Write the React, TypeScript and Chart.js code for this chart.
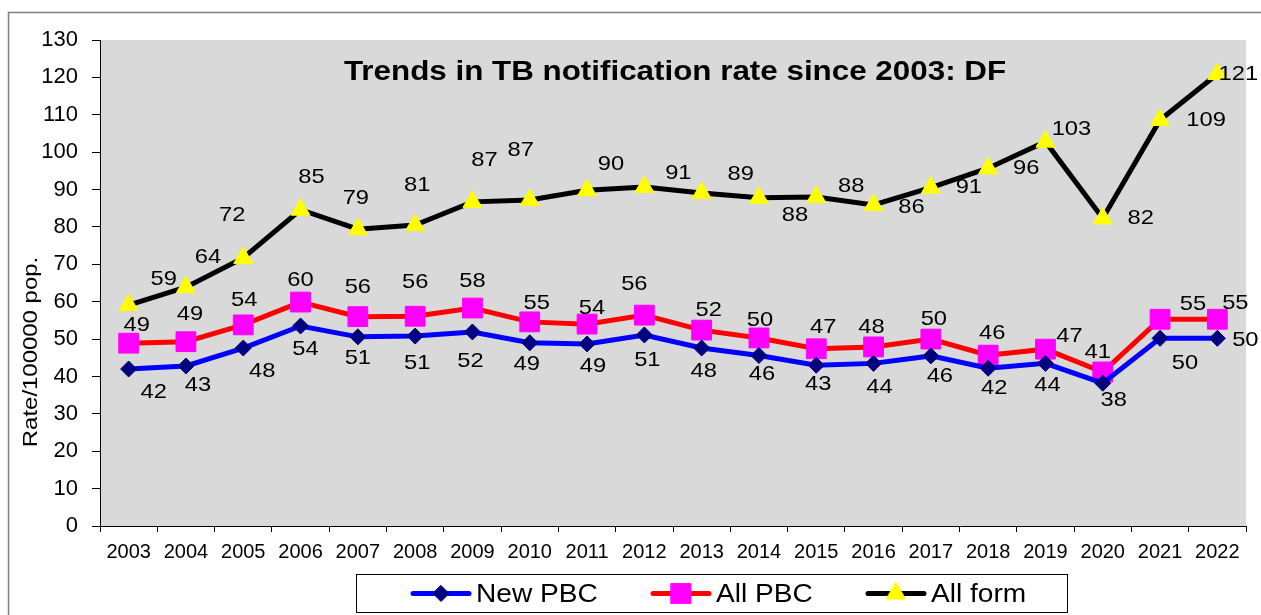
import React, { useEffect, useRef } from 'react';
import { Chart, registerables } from 'chart.js';

Chart.register(...registerables);

const years = ['2003', '2004', '2005', '2006', '2007', '2008', '2009', '2010', '2011', '2012', '2013', '2014', '2015', '2016', '2017', '2018', '2019', '2020', '2021', '2022'];
const newPBC = [42.0, 42.8, 47.6, 53.5, 50.6, 50.8, 51.9, 49.0, 48.7, 51.1, 47.6, 45.6, 43.0, 43.5, 45.5, 42.2, 43.5, 38.2, 50.2, 50.2];
const allPBC = [48.9, 49.3, 53.8, 59.9, 56.0, 56.1, 58.3, 54.6, 54.0, 56.4, 52.4, 50.3, 47.4, 47.9, 50.0, 45.7, 47.3, 41.2, 55.3, 55.3];
const allForm = [59.1, 63.9, 71.7, 84.6, 79.4, 80.5, 86.7, 87.2, 89.8, 90.7, 89.1, 87.8, 88.0, 85.9, 90.5, 95.7, 102.8, 82.3, 108.6, 120.9];

// data-label offsets from each marker (px)
const newPBCLabelOffsets = [[25, 23], [12, 19], [19, 23], [5, 23], [0, 21], [2, 27], [-2, 29], [-3, 21], [6, 22], [3, 25], [2, 23], [3, 19], [2, 19], [6, 24], [9, 20], [6, 20], [2, 22], [11, 17], [25, 25], [28, 2]];
const allPBCLabelOffsets = [[8, -18], [4, -27], [1, -25], [0, -22], [0, -29], [0, -34], [0, -27], [7, -19], [5, -16], [-10, -31], [7, -20], [1, -18], [7, -22], [-2, -20], [3, -20], [4, -22], [24, -13], [-5, -20], [33, -15], [18, -16]];
const allFormLabelOffsets = [[35, -26], [22, -30], [-11, -43], [11, -33], [-2, -31], [2, -40], [12, -42], [-9, -50], [24, -26], [34, -14], [39, -19], [36, 17], [35, -11], [38, 2], [38, 0], [38, 0], [26, -12], [38, 0], [46, 0], [21, 0]];

const titleText = 'Trends in TB notification rate since 2003: DF';
const yTitleText = 'Rate/100000 pop.';
const FONT = '"Liberation Sans", Arial, sans-serif';

const seriesStyles = [
  { label: 'New PBC', line: '#0000FF', point: '#000080', style: 'rectRot', radius: 8 },
  { label: 'All PBC', line: '#FF0000', point: '#FF00FF', style: 'rect', radius: 14 },
  { label: 'All form', line: '#000000', point: '#FFFF00', style: 'triangle', radius: 11 },
];
const seriesData = [newPBC, allPBC, allForm];
const seriesOffsets = [newPBCLabelOffsets, allPBCLabelOffsets, allFormLabelOffsets];

function stretchedText(ctx: CanvasRenderingContext2D, text: string, x: number, y: number, sx: number) {
  ctx.save();
  ctx.translate(x, y);
  ctx.scale(sx, 1);
  ctx.fillText(text, 0, 0);
  ctx.restore();
}

function drawMarker(ctx: CanvasRenderingContext2D, style: string, r: number, x: number, y: number) {
  ctx.beginPath();
  if (style === 'rectRot') {
    ctx.moveTo(x, y - r);
    ctx.lineTo(x + r, y);
    ctx.lineTo(x, y + r);
    ctx.lineTo(x - r, y);
  } else if (style === 'rect') {
    const h = r * Math.SQRT1_2;
    ctx.rect(x - h, y - h, 2 * h, 2 * h);
  } else {
    const w = r * Math.sqrt(3) / 2;
    ctx.moveTo(x, y - r);
    ctx.lineTo(x + w, y + r / 2);
    ctx.lineTo(x - w, y + r / 2);
  }
  ctx.closePath();
  ctx.fill();
  ctx.stroke();
}

const customPlugin = {
  id: 'customDecor',
  beforeDraw(chart: any) {
    const { ctx, chartArea } = chart;
    ctx.save();
    ctx.fillStyle = '#FFFFFF';
    ctx.fillRect(0, 0, chart.width, chart.height);
    ctx.strokeStyle = '#808080';
    ctx.lineWidth = 1.5;
    ctx.strokeRect(8.5, 12.5, chart.width + 20, chart.height + 20);
    ctx.fillStyle = '#D9D9D9';
    ctx.fillRect(chartArea.left, chartArea.top, chartArea.right - chartArea.left, chartArea.bottom - chartArea.top);
    ctx.restore();
  },
  afterDatasetsDraw(chart: any) {
    const { ctx, chartArea } = chart;
    ctx.save();
    ctx.fillStyle = '#000';
    ctx.font = `21px ${FONT}`;
    ctx.textAlign = 'center';
    ctx.textBaseline = 'middle';
    seriesData.forEach((data, di) => {
      const meta = chart.getDatasetMeta(di);
      meta.data.forEach((pt: any, i: number) => {
        const off = seriesOffsets[di][i];
        stretchedText(ctx, String(Math.round(data[i])), pt.x + off[0], pt.y + off[1], 1.13);
      });
    });
    ctx.font = `bold 28px ${FONT}`;
    stretchedText(ctx, titleText, (chartArea.left + chartArea.right) / 2 + 2, chartArea.top + 32, 1.12);
    ctx.restore();
  },
  afterDraw(chart: any) {
    const { ctx, chartArea } = chart;
    ctx.save();
    ctx.translate(31, (chartArea.top + chartArea.bottom) / 2 + 69);
    ctx.rotate(-Math.PI / 2);
    ctx.font = `21px ${FONT}`;
    ctx.fillStyle = '#000';
    ctx.textAlign = 'center';
    ctx.textBaseline = 'middle';
    stretchedText(ctx, yTitleText, 0, 0, 1.14);
    ctx.restore();

    ctx.save();
    const bx = 356.5, by = 574.5, bw = 711, bh = 38;
    ctx.fillStyle = '#FFFFFF';
    ctx.fillRect(bx, by, bw, bh);
    ctx.strokeStyle = '#000';
    ctx.lineWidth = 1;
    ctx.strokeRect(bx, by, bw, bh);
    const cy = by + bh / 2;
    const starts = [413, 653, 868];
    seriesStyles.forEach((s, i) => {
      const x0 = starts[i];
      ctx.strokeStyle = s.line;
      ctx.lineWidth = 5;
      ctx.lineCap = 'round';
      ctx.beginPath();
      ctx.moveTo(x0, cy);
      ctx.lineTo(x0 + 56, cy);
      ctx.stroke();
      ctx.fillStyle = s.point;
      ctx.strokeStyle = s.point;
      ctx.lineWidth = 1;
      drawMarker(ctx, s.style, s.radius, x0 + 28, cy);
      ctx.fillStyle = '#000';
      ctx.font = `26px ${FONT}`;
      ctx.textAlign = 'left';
      ctx.textBaseline = 'middle';
      stretchedText(ctx, s.label, x0 + 63, cy + 1, 1.08);
    });
    ctx.restore();
  },
};

export default function App() {
  const canvasRef = useRef<HTMLCanvasElement | null>(null);

  useEffect(() => {
    if (!canvasRef.current) return;
    const chart = new Chart(canvasRef.current, {
      type: 'line',
      data: {
        labels: years,
        datasets: seriesStyles.map((s, i) => ({
          label: s.label,
          data: seriesData[i],
          borderColor: s.line,
          borderWidth: 5,
          backgroundColor: s.point,
          pointStyle: s.style as any,
          pointRadius: s.radius,
          pointHoverRadius: s.radius,
          pointBackgroundColor: s.point,
          pointBorderColor: s.point,
          pointBorderWidth: 1,
          tension: 0,
          fill: false,
          clip: false as any,
        })),
      },
      options: {
        responsive: false,
        animation: false,
        devicePixelRatio: 1,
        layout: { padding: { left: 0, top: 40, right: 10, bottom: 0 } },
        plugins: {
          legend: { display: false },
          title: { display: false },
          tooltip: { enabled: false },
        },
        scales: {
          x: {
            type: 'category',
            offset: true,
            grid: { display: true, drawOnChartArea: false, drawTicks: true, tickLength: 6, offset: true, color: '#000' },
            border: { display: true, color: '#000', width: 1 },
            ticks: { color: '#000', font: { family: FONT, size: 20 }, padding: 8, maxRotation: 0, autoSkip: false },
            afterFit: (scale: any) => { scale.height = 89; },
          },
          y: {
            min: 0,
            max: 130,
            grid: { display: true, drawOnChartArea: false, drawTicks: true, tickLength: 8, color: '#000' },
            border: { display: true, color: '#000', width: 1 },
            ticks: { stepSize: 10, color: '#000', font: { family: FONT, size: 22 }, padding: 14 },
            afterFit: (scale: any) => { scale.width = 100; },
          },
        },
      },
      plugins: [customPlugin],
    });
    return () => chart.destroy();
  }, []);

  return (
    <div style={{ position: 'absolute', left: 0, top: 0, width: 1261, height: 615 }}>
      <canvas ref={canvasRef} width={1261} height={615} style={{ display: 'block', width: 1261, height: 615 }} />
    </div>
  );
}
